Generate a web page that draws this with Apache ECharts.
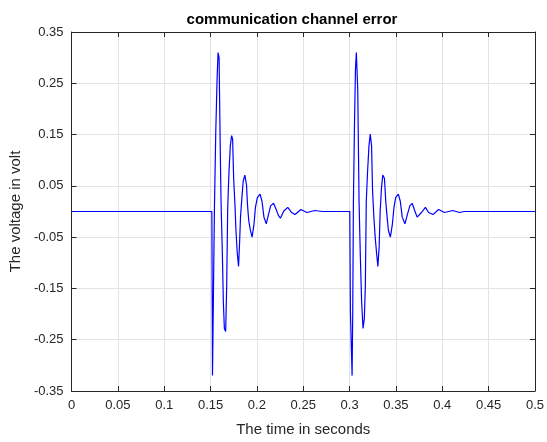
<!DOCTYPE html>
<html>
<head>
<meta charset="utf-8">
<script src="https://cdn.jsdelivr.net/npm/echarts@6/dist/echarts.min.js"></script>
<style>
html, body { margin: 0; padding: 0; background: #fff; }
#chart { width: 547px; height: 442px; }
</style>
</head>
<body>
<div id="chart"></div>
<script>
// first burst (seconds / volts)
var timePulse1 = [0.1514, 0.1521, 0.1526, 0.1531, 0.1542, 0.1556, 0.1571, 0.1581, 0.1592, 0.1603,
	0.1613, 0.1628, 0.1638, 0.1649, 0.1663, 0.1674, 0.1685, 0.1699, 0.1713, 0.1727,
	0.1738, 0.1749, 0.1763, 0.1774, 0.1788, 0.1802, 0.1813, 0.1823, 0.1838, 0.1852,
	0.1870, 0.1888, 0.1898, 0.1912, 0.1930, 0.1948, 0.1969, 0.1984, 0.2005, 0.2034,
	0.2055, 0.2076, 0.2101, 0.2126, 0.2148, 0.2180, 0.2208, 0.2233, 0.2254, 0.2290,
	0.2333, 0.2375, 0.2411, 0.2475, 0.2539, 0.2625, 0.2707];
var voltPulse1 = [0, -0.320, -0.320, -0.161, 0.008, 0.154, 0.262, 0.310, 0.300, 0.141,
	0.020, -0.088, -0.177, -0.228, -0.234, -0.145, 0.008, 0.078, 0.128, 0.148,
	0.141, 0.065, 0.014, -0.037, -0.081, -0.107, -0.062, -0.011, 0.027, 0.059,
	0.071, 0.052, 0.014, -0.018, -0.037, -0.050, -0.024, 0.008, 0.027, 0.034,
	0.020, -0.011, -0.024, -0.005, 0.011, 0.016, 0.004, -0.008, -0.013, 0.001,
	0.008, -0.002, -0.006, 0.004, -0.002, 0.002, 0];

// second burst
var timePulse2 = [0.3002, 0.3009, 0.3024, 0.3027, 0.3034, 0.3041, 0.3052, 0.3063, 0.3073, 0.3088,
	0.3102, 0.3116, 0.3130, 0.3145, 0.3159, 0.3170, 0.3180, 0.3194, 0.3209, 0.3223,
	0.3237, 0.3248, 0.3262, 0.3276, 0.3291, 0.3305, 0.3319, 0.3330, 0.3344, 0.3358,
	0.3376, 0.3390, 0.3405, 0.3419, 0.3440, 0.3462, 0.3479, 0.3497, 0.3526, 0.3547,
	0.3568, 0.3597, 0.3625, 0.3650, 0.3675, 0.3704, 0.3729, 0.3746, 0.3775, 0.3818,
	0.3853, 0.3900, 0.3960, 0.4024, 0.4113, 0.4185, 0.4238];
var voltPulse2 = [0, -0.196, -0.196, -0.320, -0.196, 0.014, 0.160, 0.275, 0.310, 0.237,
	0.020, -0.088, -0.177, -0.228, -0.209, -0.145, 0.020, 0.078, 0.128, 0.151,
	0.128, 0.039, -0.011, -0.050, -0.081, -0.107, -0.069, 0.001, 0.046, 0.071,
	0.065, 0.020, -0.011, -0.037, -0.050, -0.024, 0.008, 0.027, 0.034, 0.020,
	-0.011, -0.024, -0.005, 0.011, 0.016, 0.001, -0.011, -0.013, -0.002, 0.008,
	-0.002, -0.006, 0.004, -0.002, 0.002, -0.002, 0];

var xMin = 0, xMax = 0.5, xStep = 0.05;
var yMin = -0.35, yMax = 0.35, yStep = 0.1;

var txtColor = '#262626';
var fontName = '"Liberation Sans", Arial, Helvetica, sans-serif';

var chart = echarts.init(document.getElementById('chart'));

// whole trace: flat, burst, flat, burst, flat
var trace = [[0, 0]];
timePulse1.forEach(function(t, i) { trace.push([t, voltPulse1[i]]); });
timePulse2.forEach(function(t, i) { trace.push([t, voltPulse2[i]]); });
trace.push([0.5, 0]);

function trimNum(v) {
	return String(parseFloat(v.toFixed(2)));
}

var boxLine = { show: true, onZero: false, lineStyle: { color: txtColor, width: 1 } };
var boxTick = { show: true, inside: true, length: 5, lineStyle: { color: txtColor } };
var gridLine = { show: true, lineStyle: { color: '#e3e3e3', width: 1 } };

var option = {
	animation: false,
	backgroundColor: '#fff',
	title: {
		text: 'communication channel error',
		left: 287,
		textAlign: 'center',
		top: 7,
		textStyle: { fontFamily: fontName, fontSize: 15, fontWeight: 'bold', color: '#000' }
	},
	grid: { left: 70, right: 9, top: 32, bottom: 43 },
	xAxis: [{
		type: 'value',
		min: xMin, max: xMax, interval: xStep,
		name: 'The time in seconds',
		nameLocation: 'middle',
		nameGap: 31,
		nameTextStyle: { fontFamily: fontName, fontSize: 15, color: txtColor },
		axisLine: boxLine,
		axisTick: boxTick,
		axisLabel: { fontFamily: fontName, fontSize: 13, color: txtColor, margin: 8, formatter: trimNum },
		splitLine: gridLine
	}, {
		type: 'value', position: 'top',
		min: xMin, max: xMax, interval: xStep,
		axisLine: boxLine,
		axisTick: boxTick,
		axisLabel: { show: false },
		splitLine: { show: false }
	}],
	yAxis: [{
		type: 'value',
		min: yMin, max: yMax, interval: yStep,
		name: 'The voltage in volt',
		nameLocation: 'middle',
		nameGap: 41,
		nameTextStyle: { fontFamily: fontName, fontSize: 15, color: txtColor },
		axisLine: boxLine,
		axisTick: boxTick,
		axisLabel: { fontFamily: fontName, fontSize: 13, color: txtColor, margin: 8,
			formatter: function(v) { return v.toFixed(2); } },
		splitLine: gridLine
	}, {
		type: 'value', position: 'right',
		min: yMin, max: yMax, interval: yStep,
		axisLine: boxLine,
		axisTick: boxTick,
		axisLabel: { show: false },
		splitLine: { show: false }
	}],
	series: [{
		type: 'line',
		data: trace,
		showSymbol: false,
		symbol: 'none',
		lineStyle: { color: '#0000ff', width: 1.2 },
		itemStyle: { color: '#0000ff' }
	}]
};

chart.setOption(option);
</script>
</body>
</html>
